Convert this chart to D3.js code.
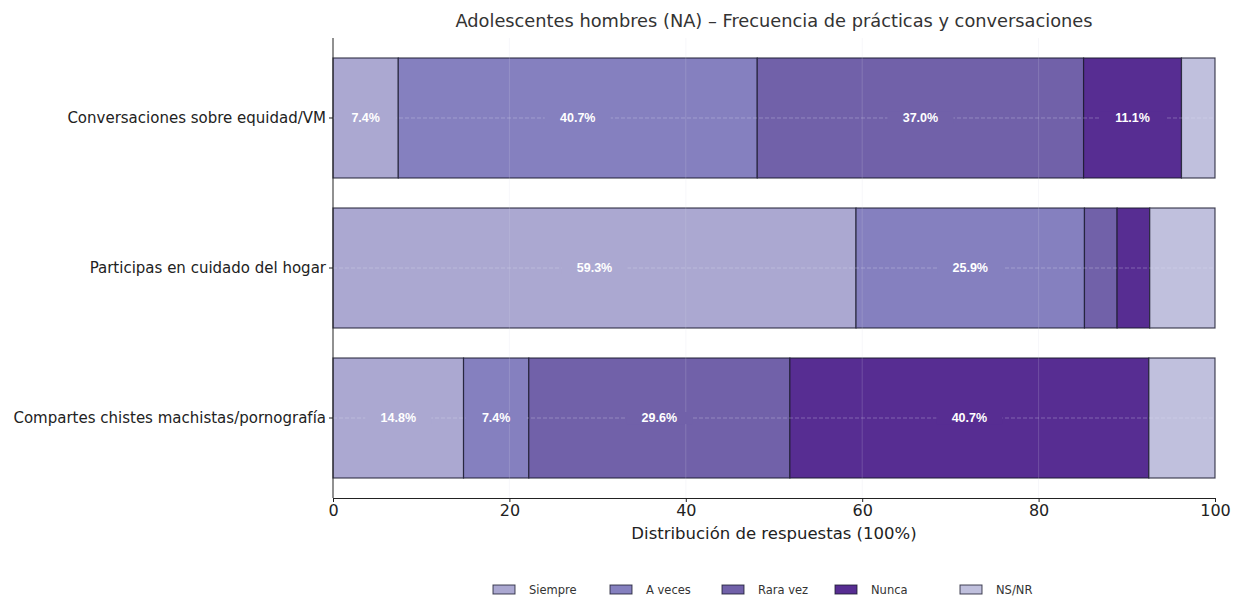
<!DOCTYPE html>
<html><head><meta charset="utf-8">
<script src="https://cdn.jsdelivr.net/npm/d3@7"></script>
<style>body{margin:0;background:#fff}svg{display:block}text{font-family:"DejaVu Sans",sans-serif}</style>
</head><body><svg id="c" width="1240" height="598"></svg>
<script>
const categories = ["Conversaciones sobre equidad/VM","Participas en cuidado del hogar","Compartes chistes machistas/pornografía"];
const seriesNames = ["Siempre","A veces","Rara vez","Nunca","NS/NR"];
const siempre = [7.4, 59.3, 14.8];
const aVeces = [40.7, 25.9, 7.4];
const raraVez = [37.0, 3.7, 29.6];
const nunca = [11.1, 3.7, 40.7];
const nsnr = [3.8, 7.4, 7.5];
const colors = ["#aba8d1","#8580bf","#7161a9","#572d92","#c0c0dd"];
const xTicks = [0,20,40,60,80,100];
const title = "Adolescentes hombres (NA) – Frecuencia de prácticas y conversaciones";
const xLabel = "Distribución de respuestas (100%)";

const series = [siempre, aVeces, raraVez, nunca, nsnr];
const svg = d3.select("#c");
const L=333,R=1215,T=38,B=498;
const x = d3.scaleLinear().domain([0,100]).range([L,R]);
const y = d3.scaleBand().domain(categories).range([T,B]).paddingInner(0.2).paddingOuter(0.1333);

const rows = categories.map((c,i)=>{let acc=0;return series.map((s,k)=>{const d={cat:c,k,v:s[i],x0:acc,x1:acc+s[i]};acc+=s[i];return d;});}).flat();

svg.append("g").selectAll("rect").data(rows).join("rect")
  .attr("x",d=>x(d.x0)).attr("width",d=>x(d.x1)-x(d.x0))
  .attr("y",d=>y(d.cat)).attr("height",y.bandwidth())
  .attr("fill",d=>colors[d.k]).attr("stroke","#1a1a2e").attr("stroke-opacity",0.8).attr("stroke-width",1.2);

// grid (drawn above bars, translucent)
const g = svg.append("g");
g.selectAll("line.vx").data(xTicks.slice(1,-1)).join("line")
  .attr("x1",d=>x(d)).attr("x2",d=>x(d)).attr("y1",T).attr("y2",B)
  .attr("stroke","#d8d8e8").attr("stroke-opacity",0.2).attr("stroke-width",1);
g.selectAll("line.hy").data(categories).join("line")
  .attr("x1",L).attr("x2",R).attr("y1",d=>y(d)+y.bandwidth()/2).attr("y2",d=>y(d)+y.bandwidth()/2)
  .attr("stroke","#e6e6f5").attr("stroke-opacity",0.3).attr("stroke-dasharray","4,2").attr("stroke-width",1);

// labels with background box in segment colour
const lab = svg.append("g").selectAll("g").data(rows.filter(d=>d.k<4 && d.v>=5)).join("g")
  .attr("transform",d=>`translate(${x((d.x0+d.x1)/2)},${y(d.cat)+y.bandwidth()/2})`);
lab.append("rect").attr("x",-33).attr("y",-6).attr("width",66).attr("height",12)
  .attr("fill",d=>colors[d.k]).each(function(d){const w=Math.min(66,x(d.x1)-x(d.x0)-4);d3.select(this).attr("x",-w/2).attr("width",w);});
lab.append("text").attr("text-anchor","middle").attr("dominant-baseline","central")
  .attr("fill","#fff").attr("font-weight","bold").attr("font-size",12.5)
  .style("font-family","'Liberation Sans',Arial,sans-serif")
  .text(d=>d.v.toFixed(1)+"%");

// axes
const ax = svg.append("g").attr("transform",`translate(0,${B})`).call(d3.axisBottom(x).tickValues(xTicks).tickSize(4).tickPadding(3));
ax.select(".domain").attr("stroke","#222");
ax.selectAll("text").attr("font-size",16).attr("fill","#222").style("font-family","'DejaVu Sans'");
ax.selectAll(".tick line").attr("stroke","#222");
const ay = svg.append("g").attr("transform",`translate(${L},0)`).call(d3.axisLeft(y).tickSize(4).tickPadding(3));
ay.select(".domain").attr("d",`M0,${T}V${B}`).attr("stroke","#222");
ay.selectAll("text").attr("font-size",15).attr("fill","#222").style("font-family","'DejaVu Sans'");
ay.selectAll(".tick line").attr("stroke","#222");

svg.append("text").attr("x",(L+R)/2).attr("y",20).attr("text-anchor","middle").attr("dominant-baseline","central")
  .attr("font-size",17.8).attr("fill","#333").text(title);
svg.append("text").attr("x",(L+R)/2).attr("y",533).attr("text-anchor","middle").attr("dominant-baseline","central")
  .attr("font-size",16.5).attr("fill","#222").text(xLabel);

// legend
const legX=[493,610,722,835,960];
const lg = svg.append("g");
seriesNames.forEach((n,i)=>{
  lg.append("rect").attr("x",legX[i]).attr("y",585).attr("width",22).attr("height",9)
    .attr("fill",colors[i]).attr("stroke","#1a1a2e").attr("stroke-opacity",0.8);
  lg.append("text").attr("x",legX[i]+36).attr("y",590).attr("dominant-baseline","central")
    .attr("font-size",11.5).attr("fill","#333").text(n);
});
</script></body></html>
